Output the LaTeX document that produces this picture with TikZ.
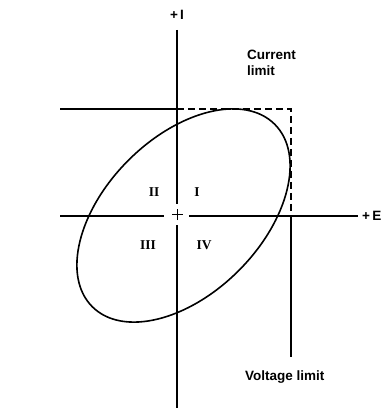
\documentclass[tikz,border=0pt]{standalone}
\usepackage{fontspec}
\setmainfont{Liberation Sans}
\newfontfamily\romfont{Liberation Serif}
\begin{document}
\begin{tikzpicture}[x=1pt,y=-1pt,
  axis/.style={line width=1.4pt},
  lim/.style={line width=1.5pt},
  limdash/.style={line width=1.5pt,dash pattern=on 7pt off 4pt},
  curve/.style={line width=1.6pt},
  lbl/.style={font=\bfseries\fontsize{13.5}{15.5}\selectfont,align=left,inner sep=0pt},
  quad/.style={font=\romfont\bfseries\fontsize{13.5}{15}\selectfont,inner sep=0pt}]
\useasboundingbox (0,0) rectangle (384,411);
% axes
\coordinate (ytop) at (177,30);
\coordinate (ybot) at (177,408);
\coordinate (yg1) at (177,204);
\coordinate (yg2) at (177,225);
\coordinate (xl) at (60,216);
\coordinate (xr) at (358,216);
\coordinate (xg1) at (164,216);
\coordinate (xg2) at (189,216);
\draw[axis] (ytop) -- (yg1);
\draw[axis] (yg2) -- (ybot);
\draw[axis] (xl) -- (xg1);
\draw[axis] (xg2) -- (xr);
\coordinate (o) at (177.5,214.5);
\draw[axis] ([xshift=-5.5pt]o) -- ([xshift=5.5pt]o);
\draw[axis] ([yshift=-5.5pt]o) -- ([yshift=5.5pt]o);
% limits
\coordinate (cl) at (60,109);
\coordinate (cm) at (177,109);
\coordinate (cc) at (291,109);
\coordinate (vm) at (291,216);
\coordinate (vb) at (291,357);
\draw[lim] (cl) -- (cm);
\draw[limdash] (cm) -- (cc) -- (vm);
\draw[lim] (vm) -- (vb);
% ellipse
\draw[curve,rotate around={45:(183.5,215.5)}] (183.5,215.5) ellipse [x radius=129, y radius=78];
% labels
\node[lbl] (li) at (177,15) {+\,I};
\node[lbl,anchor=west] (le) at (362,216) {+\,E};
\node[lbl,anchor=north west] (lc) at (247,50) {Current\\limit};
\node[lbl,anchor=west] (lv) at (245,377) {Voltage limit};
\node[quad] (q2) at (154,192) {II};
\node[quad] (q1) at (197,192) {I};
\node[quad] (q3) at (148,245) {III};
\node[quad] (q4) at (204,245) {IV};
\end{tikzpicture}
\end{document}
